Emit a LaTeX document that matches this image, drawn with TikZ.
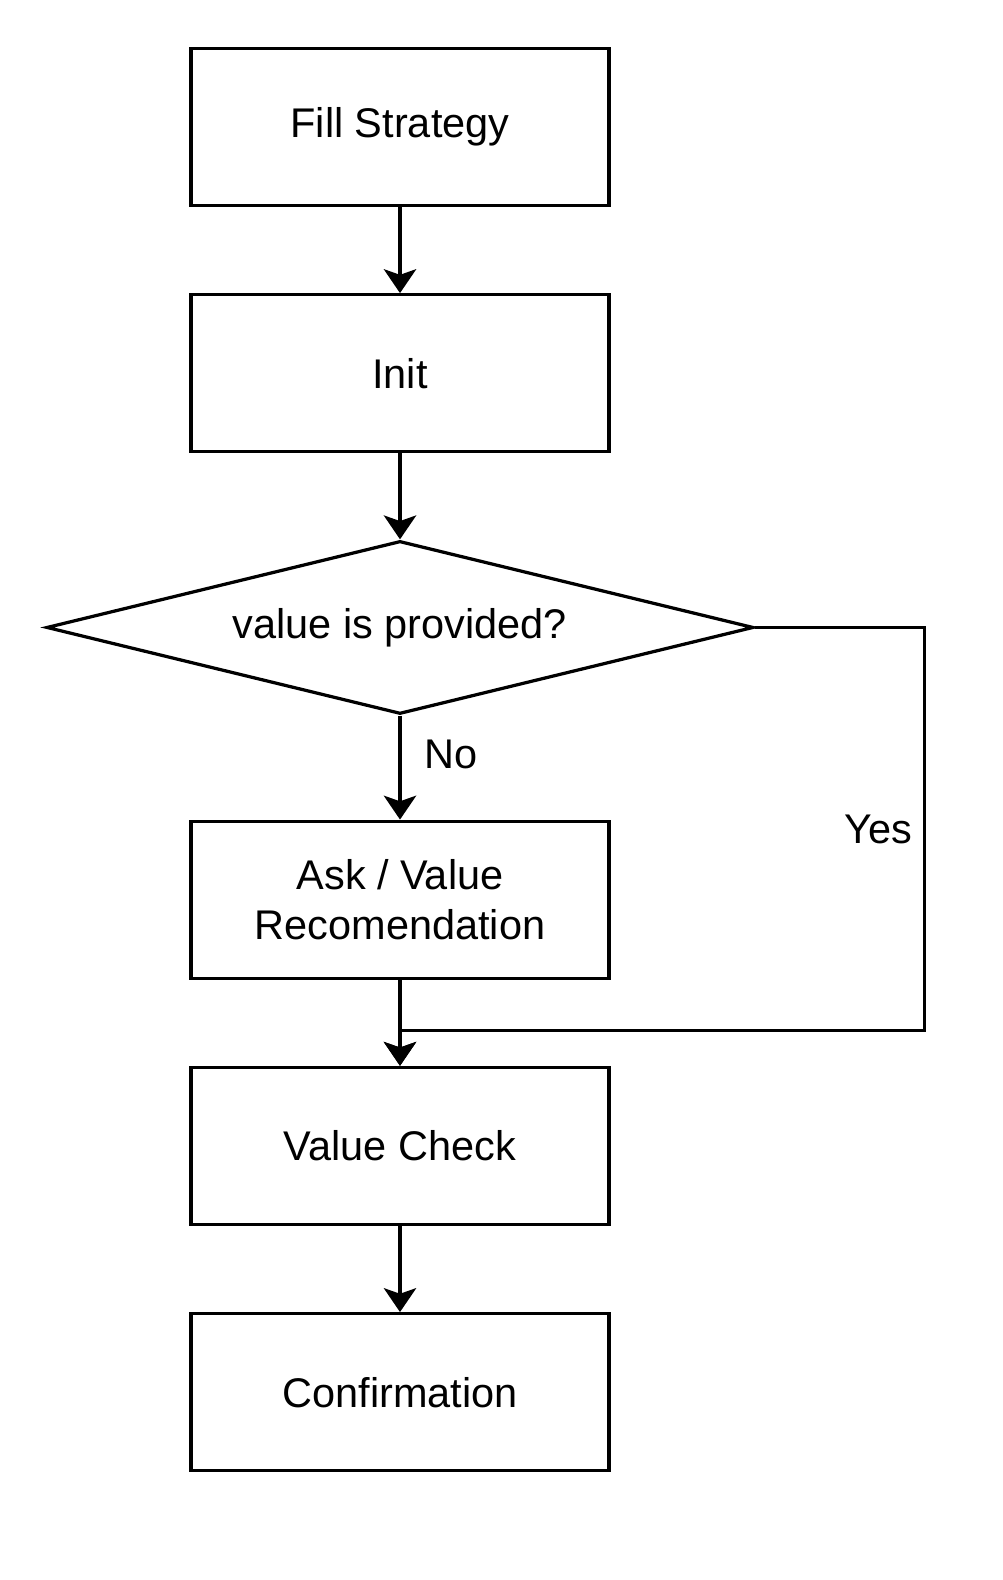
\documentclass[tikz,border=0pt]{standalone}
\usepackage{fontspec}
\setmainfont{Liberation Sans}
\usepackage{tikz}
\usetikzlibrary{positioning, shapes.geometric, arrows.meta}
\tikzset{>={Stealth[length=17pt, width=23pt, inset=4pt]}}
\tikzset{
    stepbox/.style={draw, line width=2.3pt, minimum width=10.45cm, minimum height=3.925cm, align=center, inner sep=0pt},
    decision/.style={draw, diamond, aspect=4, line width=2.3pt, minimum width=17.675cm, minimum height=4.325cm, inner sep=0pt},
    flow/.style={->, line width=2.3pt}
}

\begin{document}
\begin{tikzpicture}[font=\fontsize{29.5}{35}\selectfont, node distance=2.15cm]
    \useasboundingbox (0, 0) rectangle (25.05, -39.5);
    \node[stepbox](fill) at (10, -3.175){Fill Strategy};
    \node[stepbox, below=of fill](init){Init};
    \node[decision, below=2.15cm of init](dec){value is provided?};
    \node[stepbox, below=2.6cm of dec](ask){Ask / Value\\Recomendation};
    \node[stepbox, below=of ask](check){Value Check};
    \node[stepbox, below=of check](conf){Confirmation};
    \draw[flow](fill)--(init);
    \draw[flow](init)--(dec);
    \draw[flow](dec)--node[right, pos=.37, xshift=.45cm]{No}(ask);
    \draw[flow](ask)--(check);
    \coordinate (yesturn) at ([xshift=4.225cm]dec.east);
    \coordinate (yesjoin) at ([yshift=.875cm]check.north);
    \draw[flow](dec.east)--(yesturn)--node[left, xshift=-.15cm]{Yes}(yesturn|-yesjoin)--(yesjoin)--(check.north);
    \draw[flow](check)--(conf);
\end{tikzpicture}
\end{document}
